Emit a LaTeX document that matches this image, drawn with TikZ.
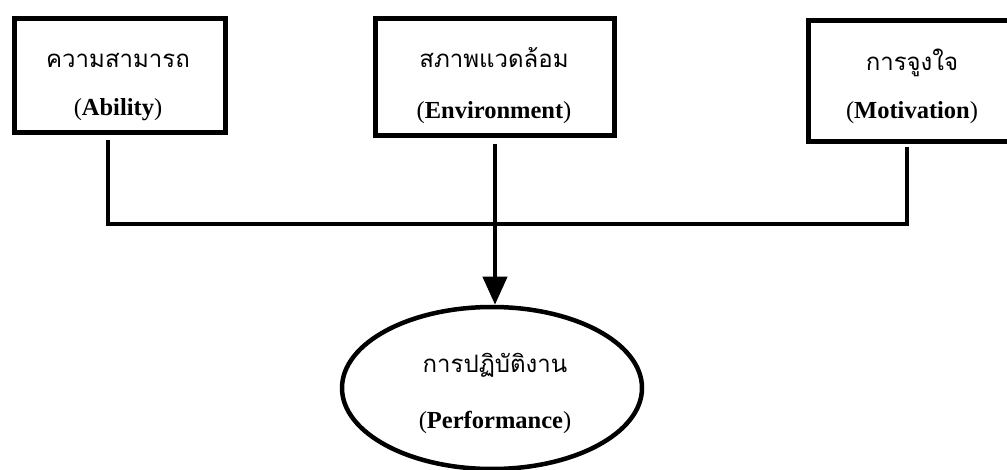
\documentclass[tikz,border=0pt]{standalone}
\usepackage{fontspec}
\setmainfont{Liberation Serif}
\newfontfamily\thai[Script=Thai]{Loma}
\usetikzlibrary{shapes.geometric,arrows.meta}
\tikzset{
  box/.style={draw=black, line width=5pt, inner sep=0pt},
  conn/.style={draw=black, line width=4pt},
  thaitxt/.style={font=\thai\fontsize{24}{28}\selectfont, inner sep=0pt},
  engtxt/.style={font=\fontsize{24.5}{28}\selectfont, inner sep=0pt},
}
\begin{document}
\begin{tikzpicture}[x=1pt,y=-1pt]
\useasboundingbox (0,0) rectangle (1007,470);
% boxes
\node[box, minimum width=210.5pt, minimum height=114.5pt] (a) at (119.75,75.75) {};
\node[box, minimum width=239pt, minimum height=116.5pt] (b) at (494.5,77.25) {};
\node[box, minimum width=208pt, minimum height=121pt] (c) at (912,81.5) {};
\node[draw=black, line width=4.5pt, ellipse, inner sep=0pt, minimum width=300pt, minimum height=162pt] (e) at (492,388) {};
% texts
\node[thaitxt] (at) at (118,60) {ความสามารถ};
\node[engtxt] (ae) at (118,110) {(\textbf{Ability})};
\node[thaitxt] (bt) at (494,58) {สภาพแวดล้อม};
\node[engtxt] (be) at (494,113) {(\textbf{Environment})};
\node[thaitxt] (ct) at (912,63) {การจูงใจ};
\node[engtxt] (ce) at (912,113) {(\textbf{Motivation})};
\node[thaitxt] (et) at (495,365) {การปฏิบัติงาน};
\node[engtxt] (ee) at (495,422) {(\textbf{Performance})};
% connectors
\coordinate (jl) at (108,224);
\coordinate (jm) at (495,224);
\coordinate (jr) at (907,224);
\draw[conn] ([yshift=-5pt]a.south -| jl) -- (jl) -- (jr) -- ([yshift=-3pt]c.south -| jr);
\draw[conn, -{Triangle[width=24pt,length=28pt]}] ([yshift=-6pt]b.south -| jm) -- (jm |- e.north);
\end{tikzpicture}
\end{document}
